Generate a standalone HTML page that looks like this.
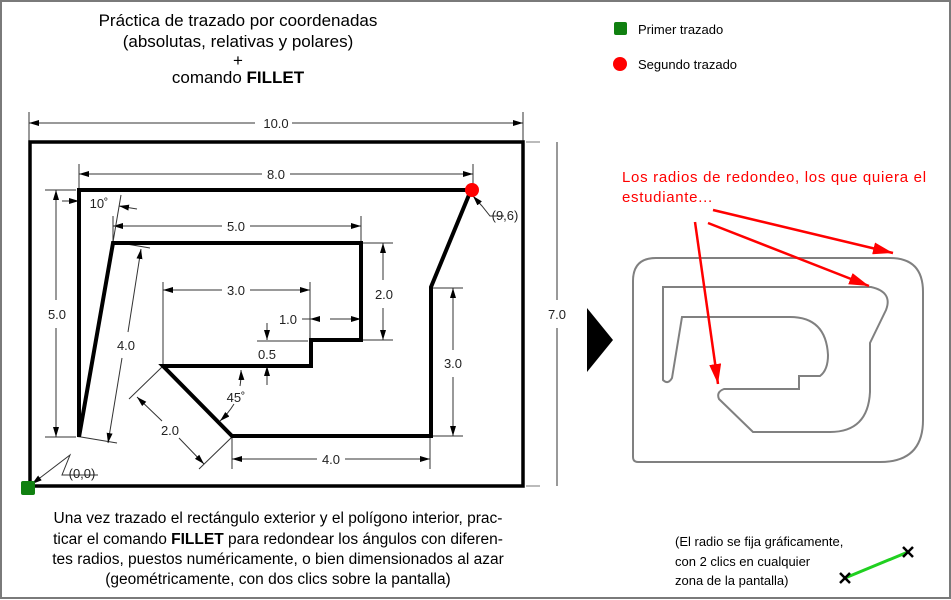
<!DOCTYPE html>
<html><head><meta charset="utf-8"><style>
body{margin:0;background:#fff}
svg{display:block}
text{font-family:"Liberation Sans",Arial,sans-serif}
.d{font-family:"DejaVu Sans","Liberation Sans",sans-serif;font-size:13px;fill:#222}
</style></head><body>
<svg width="951" height="600" viewBox="0 0 951 600" xmlns="http://www.w3.org/2000/svg">
<defs>
<marker id="a" viewBox="0 0 10 6" refX="10" refY="3" markerWidth="10" markerHeight="6" orient="auto-start-reverse" markerUnits="userSpaceOnUse"><path d="M0,0 L10,3 L0,6 Z" fill="#000"/></marker>
<marker id="r" viewBox="0 0 20 12" refX="20" refY="6" markerWidth="20" markerHeight="12" orient="auto" markerUnits="userSpaceOnUse"><path d="M0,0 L20,6 L0,12 Z" fill="#f00"/></marker>
</defs>
<rect x="1" y="1" width="949" height="597" fill="#fff" stroke="#7a7a7a" stroke-width="2"/>
<g font-size="17" text-anchor="middle" fill="#000">
<text x="238" y="26">Práctica de trazado por coordenadas</text>
<text x="238" y="47">(absolutas, relativas y polares)</text>
<text x="238" y="66">+</text>
<text x="238" y="83">comando <tspan font-weight="bold">FILLET</tspan></text>
</g>
<rect x="614" y="22" width="13" height="13" rx="2" fill="#108010"/>
<text x="638" y="34" font-size="13">Primer trazado</text>
<circle cx="620" cy="64" r="7" fill="#f00"/>
<text x="638" y="69" font-size="13">Segundo trazado</text>

<g stroke="#333" stroke-width="1" fill="none">
<line x1="29" y1="112" x2="29" y2="142"/><line x1="523" y1="112" x2="523" y2="142"/>
<line x1="29" y1="123" x2="255" y2="123" marker-start="url(#a)"/><line x1="292" y1="123" x2="523" y2="123" marker-end="url(#a)"/>
<line x1="79" y1="164" x2="79" y2="190"/><line x1="473" y1="164" x2="473" y2="185"/>
<line x1="79" y1="174" x2="262" y2="174" marker-start="url(#a)"/><line x1="290" y1="174" x2="473" y2="174" marker-end="url(#a)"/>
<line x1="113" y1="216" x2="113" y2="242"/><line x1="361" y1="216" x2="361" y2="242"/>
<line x1="113" y1="226" x2="222" y2="226" marker-start="url(#a)"/><line x1="250" y1="226" x2="361" y2="226" marker-end="url(#a)"/>
<line x1="163" y1="282" x2="163" y2="366"/><line x1="310" y1="282" x2="310" y2="340"/>
<line x1="163" y1="290" x2="222" y2="290" marker-start="url(#a)"/><line x1="250" y1="290" x2="310" y2="290" marker-end="url(#a)"/>
<line x1="302" y1="319" x2="310" y2="319"/>
<line x1="315" y1="319" x2="310" y2="319" marker-end="url(#a)"/>
<line x1="330" y1="319" x2="361" y2="319" marker-end="url(#a)"/>
<line x1="257" y1="341" x2="308" y2="341"/>
<line x1="267" y1="323" x2="267" y2="340" marker-end="url(#a)"/>
<line x1="267" y1="385" x2="267" y2="366" marker-end="url(#a)"/>
<line x1="363" y1="243" x2="393" y2="243"/><line x1="363" y1="340" x2="393" y2="340"/>
<line x1="383" y1="243" x2="383" y2="280" marker-start="url(#a)"/><line x1="383" y1="308" x2="383" y2="340" marker-end="url(#a)"/>
<line x1="433" y1="288" x2="463" y2="288"/><line x1="433" y1="436" x2="463" y2="436"/>
<line x1="453" y1="288" x2="453" y2="350" marker-start="url(#a)"/><line x1="453" y1="377" x2="453" y2="436" marker-end="url(#a)"/>
<line x1="232" y1="438" x2="232" y2="469"/><line x1="430" y1="438" x2="430" y2="469"/>
<line x1="232" y1="459" x2="317" y2="459" marker-start="url(#a)"/><line x1="345" y1="459" x2="430" y2="459" marker-end="url(#a)"/>
<line x1="45" y1="190" x2="76" y2="190"/><line x1="45" y1="437" x2="76" y2="437"/>
<line x1="56" y1="190" x2="56" y2="300" marker-start="url(#a)"/><line x1="56" y1="328" x2="56" y2="437" marker-end="url(#a)"/>
<line x1="526" y1="142" x2="540" y2="142" stroke="#777"/><line x1="526" y1="486" x2="540" y2="486" stroke="#777"/>
<line x1="557" y1="142" x2="557" y2="300"/><line x1="557" y1="328" x2="557" y2="486"/>
<line x1="115" y1="242" x2="150" y2="248"/><line x1="81" y1="437" x2="117" y2="443"/>
<line x1="141" y1="249" x2="128" y2="332" marker-start="url(#a)"/><line x1="122" y1="358" x2="108" y2="443" marker-end="url(#a)"/>
<line x1="113" y1="242" x2="121" y2="195"/>
<line x1="62" y1="201" x2="79" y2="201" marker-end="url(#a)"/>
<line x1="137" y1="209" x2="119" y2="206" marker-end="url(#a)"/>
<line x1="162" y1="367" x2="129" y2="399"/><line x1="232" y1="437" x2="199" y2="469"/>
<line x1="137" y1="397" x2="162" y2="421" marker-start="url(#a)"/><line x1="179" y1="438" x2="204" y2="464" marker-end="url(#a)"/>
<path d="M241,370 A80,80 0 0 1 240,386" marker-start="url(#a)"/>
<path d="M234,404 A80,80 0 0 1 220,421" marker-end="url(#a)"/>
<path d="M504,216 L490,216 L482,206 L473,196" marker-end="url(#a)"/>
<path d="M98,475 L62,475 L70,455 L32,484" marker-end="url(#a)"/>
</g>
<g class="d" text-anchor="middle">
<text x="276" y="128">10.0</text>
<text x="276" y="179">8.0</text>
<text x="236" y="231">5.0</text>
<text x="236" y="295">3.0</text>
<text x="288" y="324">1.0</text>
<text x="267" y="359">0.5</text>
<text x="384" y="299">2.0</text>
<text x="453" y="368">3.0</text>
<text x="331" y="464">4.0</text>
<text x="57" y="319">5.0</text>
<text x="557" y="319">7.0</text>
<text x="126" y="350">4.0</text>
<text x="170" y="435">2.0</text>
<text x="236" y="402">45˚</text>
<text x="99" y="208">10˚</text>
<text x="505" y="220">(9,6)</text>
<text x="82" y="478">(0,0)</text>
</g>
<rect x="30" y="142" width="493" height="344" fill="none" stroke="#000" stroke-width="3.5"/>
<polygon points="79,437 79,190 471,190 431,287 431,436 232,436 163,366 311,366 311,340 361,340 361,243 113,243" fill="none" stroke="#000" stroke-width="4"/>
<circle cx="472" cy="190" r="7" fill="#f00"/>
<rect x="21" y="481" width="14" height="14" rx="2" fill="#108010"/>
<g font-size="15.5" text-anchor="middle">
<text x="278" y="523">Una vez trazado el rectángulo exterior y el polígono interior, prac-</text>
<text x="278" y="544">ticar el comando <tspan font-weight="bold">FILLET</tspan> para redondear los ángulos con diferen-</text>
<text x="278" y="564">tes radios, puestos numéricamente, o bien dimensionados al azar</text>
<text x="278" y="584">(geométricamente, con dos clics sobre la pantalla)</text>
</g>
<polygon points="587,308 613,340 587,372" fill="#000"/>
<g fill="none" stroke="#808080" stroke-width="2">
<path d="M656,258 L890,258 Q923,258 923,292 L923,420 Q923,462 880,462 L638,462 Q633,462 633,457 L633,281 Q633,258 656,258 Z"/>
<path d="M663,287 L871,287 Q893,292 886,310 L870,343 L870,392 Q868,432 830,432 L753,432 L719,399 Q716,392 724,389 L799,389 L799,376 L820,376 Q828,370 828,355 Q826,317 790,317 L682,317 L672,378 Q668,385 663,380 Z"/>
</g>
<text x="622" y="182" font-size="15" letter-spacing="0.7" fill="#f00" font-family="DejaVu Sans,sans-serif">Los radios de redondeo, los que quiera el</text>
<text x="622" y="202" font-size="15" letter-spacing="0.7" fill="#f00" font-family="DejaVu Sans,sans-serif">estudiante...</text>
<g stroke="#f00" stroke-width="2.5">
<line x1="713" y1="210" x2="893" y2="253" marker-end="url(#r)"/>
<line x1="708" y1="223" x2="869" y2="286" marker-end="url(#r)"/>
<line x1="695" y1="222" x2="718" y2="384" marker-end="url(#r)"/>
</g>
<g font-size="13">
<text x="675" y="546">(El radio se fija gráficamente,</text>
<text x="675" y="566">con 2 clics en cualquier</text>
<text x="675" y="585">zona de la pantalla)</text>
</g>
<line x1="845" y1="578" x2="908" y2="552" stroke="#20d020" stroke-width="3"/>
<g stroke="#000" stroke-width="2.5">
<line x1="840" y1="573" x2="850" y2="583"/><line x1="850" y1="573" x2="840" y2="583"/>
<line x1="903" y1="547" x2="913" y2="557"/><line x1="913" y1="547" x2="903" y2="557"/>
</g>
</svg>
</body></html>
